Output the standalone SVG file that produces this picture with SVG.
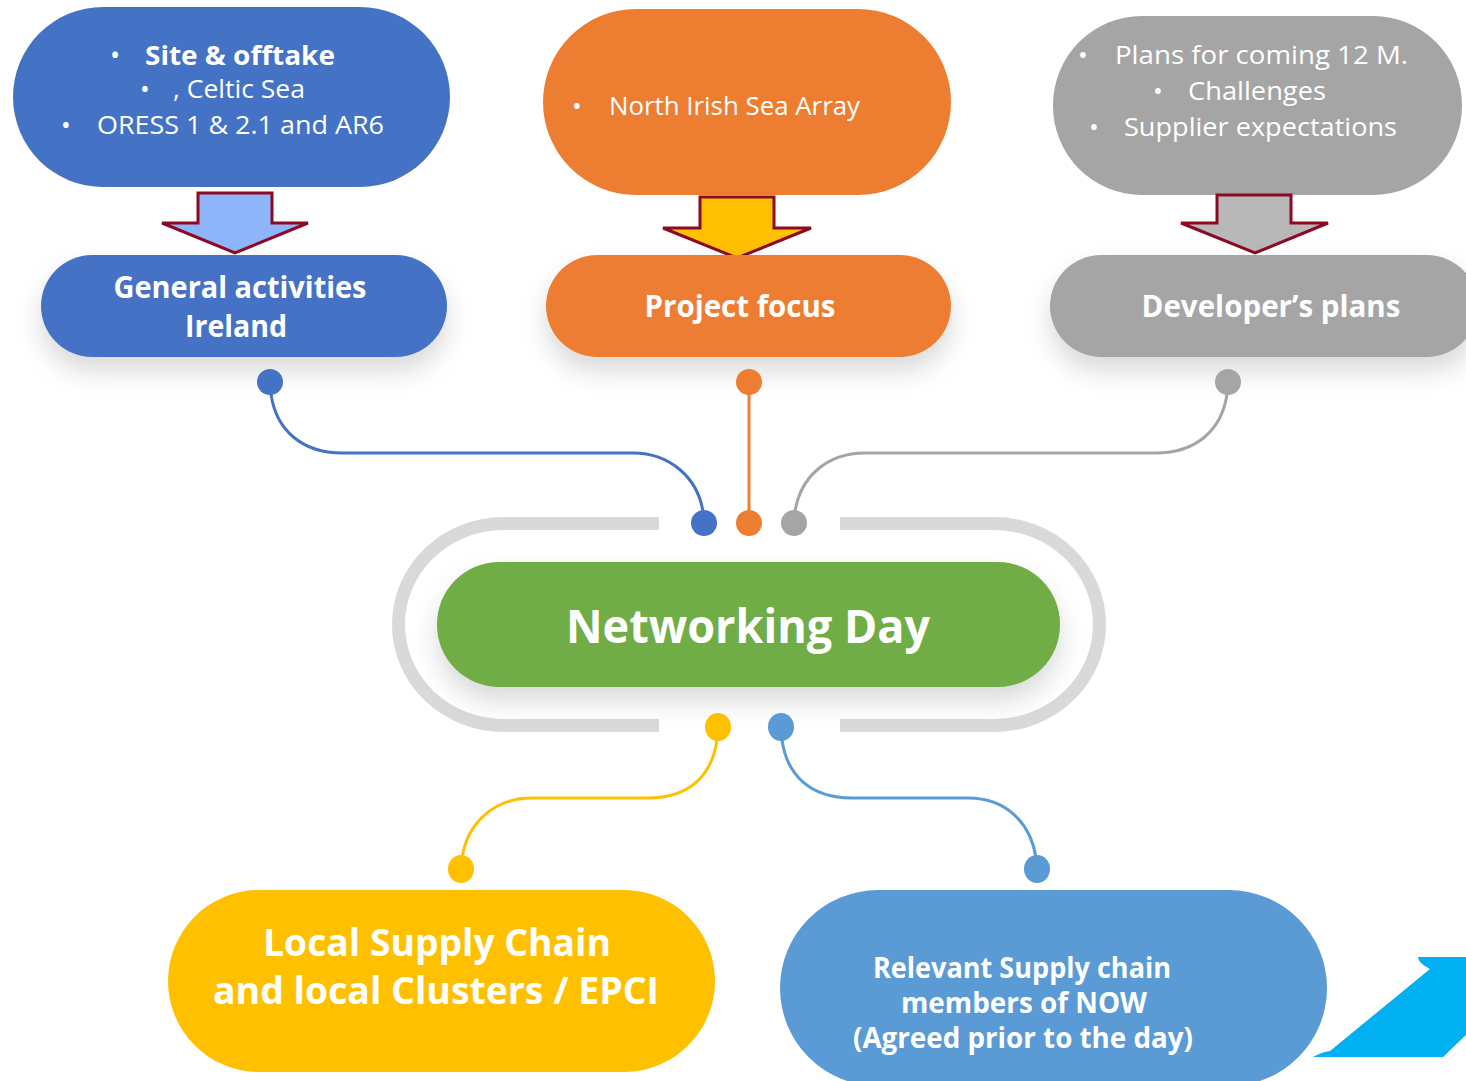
<svg xmlns="http://www.w3.org/2000/svg" width="1466" height="1081" viewBox="0 0 1466 1081">
<defs>
<filter id="sh" x="-20%" y="-30%" width="140%" height="180%">
<feDropShadow dx="0" dy="14" stdDeviation="13" flood-color="#000" flood-opacity="0.15"/>
</filter>
<style>
.t{font-family:"Open Sans","Noto Sans","Liberation Sans",sans-serif;fill:#fff}
.b{font-weight:bold}
.arrow{stroke:#8B0A23;stroke-width:3;stroke-linejoin:miter}
.con{fill:none;stroke-width:3}
</style>
</defs>
<rect width="1466" height="1081" fill="#fff"/>

<g id="ring">
<path d="M659,523.5 L503.5,523.5 A105,101 0 0 0 503.5,725.5 L659,725.5" fill="none" stroke="#D9D9D9" stroke-width="13"/>
<path d="M840,523.5 L994.5,523.5 A105,101 0 0 1 994.5,725.5 L840,725.5" fill="none" stroke="#D9D9D9" stroke-width="13"/>
</g>

<g id="node-site">
<rect x="13" y="7" width="437" height="180" rx="90" fill="#4472C4"/>
<text class="t" font-size="27"><tspan x="110" y="65">•</tspan><tspan class="b" x="145" y="65" textLength="190" lengthAdjust="spacingAndGlyphs">Site &amp; offtake</tspan></text>
<text class="t" font-size="26"><tspan x="140" y="98">•</tspan><tspan x="173" y="98" textLength="132" lengthAdjust="spacingAndGlyphs">, Celtic Sea</tspan></text>
<text class="t" font-size="26"><tspan x="61" y="134">•</tspan><tspan x="97" y="134" textLength="287" lengthAdjust="spacingAndGlyphs">ORESS 1 &amp; 2.1 and AR6</tspan></text>
</g>

<g id="node-nisa">
<rect x="543" y="9" width="408" height="186" rx="93" fill="#ED7D31"/>
<text class="t" font-size="26"><tspan x="572" y="115">•</tspan><tspan x="609" y="115" textLength="251" lengthAdjust="spacingAndGlyphs">North Irish Sea Array</tspan></text>
</g>

<g id="node-plans">
<rect x="1053" y="16" width="409" height="179" rx="89" fill="#A5A5A5"/>
<text class="t" font-size="26"><tspan x="1078" y="64">•</tspan><tspan x="1115" y="64" textLength="293" lengthAdjust="spacingAndGlyphs">Plans for coming 12 M.</tspan></text>
<text class="t" font-size="26"><tspan x="1153" y="100">•</tspan><tspan x="1188" y="100" textLength="138" lengthAdjust="spacingAndGlyphs">Challenges</tspan></text>
<text class="t" font-size="26"><tspan x="1089" y="136">•</tspan><tspan x="1124" y="136" textLength="273" lengthAdjust="spacingAndGlyphs">Supplier expectations</tspan></text>
</g>

<g id="arrow-blue">
<path class="arrow" fill="#8EB4FA" d="M198,193 L272,193 L272,223 L308,223 L235,253 L162,223 L198,223 Z"/>
</g>
<g id="arrow-orange">
<path class="arrow" fill="#FFC000" d="M700,197 L774,197 L774,228 L811,228 L737,258 L663,228 L700,228 Z"/>
</g>
<g id="arrow-gray">
<path class="arrow" fill="#B8B8B8" d="M1217,195 L1291,195 L1291,223 L1328,223 L1255,253 L1181,223 L1217,223 Z"/>
</g>

<g id="node-general">
<rect x="41" y="255" width="406" height="102" rx="51" fill="#4472C4" filter="url(#sh)"/>
<text class="t b" font-size="30" text-anchor="middle"><tspan x="240" y="298" textLength="253" lengthAdjust="spacingAndGlyphs">General activities</tspan><tspan x="236" y="337" textLength="102" lengthAdjust="spacingAndGlyphs">Ireland</tspan></text>
</g>

<g id="node-project">
<rect x="546" y="255" width="405" height="102" rx="51" fill="#ED7D31" filter="url(#sh)"/>
<text class="t b" font-size="30" text-anchor="middle" x="740" y="317" textLength="191" lengthAdjust="spacingAndGlyphs">Project focus</text>
</g>

<g id="node-developer">
<rect x="1050" y="255" width="428" height="102" rx="51" fill="#A5A5A5" filter="url(#sh)"/>
<text class="t b" font-size="30" text-anchor="middle" x="1271" y="317" textLength="259" lengthAdjust="spacingAndGlyphs">Developer’s plans</text>
</g>

<g id="node-networking">
<rect x="437" y="562" width="623" height="125" rx="62" fill="#70AD47" filter="url(#sh)"/>
<text class="t b" font-size="47" text-anchor="middle" x="748" y="643" textLength="364" lengthAdjust="spacingAndGlyphs">Networking Day</text>
</g>

<g id="node-local">
<rect x="168" y="890" width="547" height="182" rx="91" fill="#FFC000"/>
<text class="t b" font-size="38" text-anchor="middle"><tspan x="437" y="956" textLength="348" lengthAdjust="spacingAndGlyphs">Local Supply Chain</tspan><tspan x="436" y="1004" textLength="446" lengthAdjust="spacingAndGlyphs">and local Clusters / EPCI</tspan></text>
</g>

<g id="node-relevant">
<rect x="780" y="890" width="547" height="196" rx="98" fill="#5B9BD5"/>
<text class="t b" font-size="28" text-anchor="middle"><tspan x="1022" y="978" textLength="298" lengthAdjust="spacingAndGlyphs">Relevant Supply chain</tspan><tspan x="1024" y="1013" textLength="246" lengthAdjust="spacingAndGlyphs">members of NOW</tspan><tspan x="1023" y="1048" textLength="340" lengthAdjust="spacingAndGlyphs">(Agreed prior to the day)</tspan></text>
</g>

<g id="corner-shape">
<path d="M1418,957 L1466,957 L1466,1035 L1443,1057 L1313,1057 Q1322,1052 1330,1051 L1430,969 Q1418,963 1418,957 Z" fill="#00B0F0"/>
</g>

<g id="connectors">
<path class="con" stroke="#4472C4" d="M271,394 C276,430 302,453 342,453 L633,453 C670,453 698,478 703,512"/>
<path class="con" stroke="#ED7D31" d="M749,394 L749,512"/>
<path class="con" stroke="#A5A5A5" d="M1227,394 C1222,430 1196,453 1156,453 L865,453 C826,453 800,478 795,512"/>
<path class="con" stroke="#FFC000" d="M717,740 C712,775 690,798 648,798 L532,798 C492,798 467,825 462,858"/>
<path class="con" stroke="#5B9BD5" d="M782,740 C787,775 810,798 852,798 L968,798 C1008,798 1031,825 1036,858"/>
<circle cx="270" cy="382" r="13" fill="#4472C4"/>
<circle cx="749" cy="382" r="13" fill="#ED7D31"/>
<circle cx="1228" cy="382" r="13" fill="#A5A5A5"/>
<circle cx="704" cy="523" r="13" fill="#4472C4"/>
<circle cx="749" cy="523" r="13" fill="#ED7D31"/>
<circle cx="794" cy="523" r="13" fill="#A5A5A5"/>
<ellipse cx="718" cy="727" rx="13" ry="14" fill="#FFC000"/>
<ellipse cx="781" cy="727" rx="13" ry="14" fill="#5B9BD5"/>
<ellipse cx="461" cy="869" rx="13" ry="14" fill="#FFC000"/>
<ellipse cx="1037" cy="869" rx="13" ry="14" fill="#5B9BD5"/>
</g>
</svg>
